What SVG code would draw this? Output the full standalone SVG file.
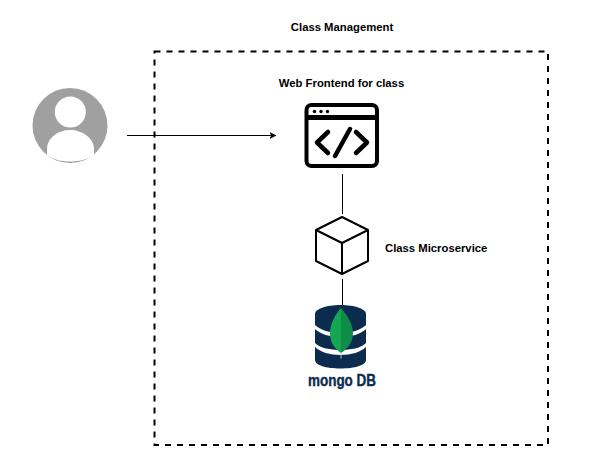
<svg xmlns="http://www.w3.org/2000/svg" width="591" height="473" viewBox="0 0 591 473">
<style>
.t{font-family:"Liberation Sans",Arial,sans-serif;font-size:11.300px;font-weight:700;fill:#000}
.c{fill:none;stroke:#000;stroke-width:1}
.k{fill:none;stroke:#000;stroke-linejoin:round}
</style>
<defs><marker id="a" markerWidth="8" markerHeight="8" refX="6.500" refY="3.500" orient="auto" markerUnits="userSpaceOnUse"><path d="M0 0L7 3.500L0 7L1.600 3.500Z" fill="#000"/></marker></defs>
<rect width="591" height="473" fill="#fff"/>
<g id="boundary"><rect x="154.500" y="51.500" width="393.500" height="393.500" fill="none" stroke="#000" stroke-width="2" stroke-dasharray="6 6"/></g>
<g id="connectors">
<path class="c" d="M127 135.500H276" marker-end="url(#a)"/>
<path class="c" d="M342.500 174V214"/>
<path class="c" d="M342.500 279V305"/>
</g>
<g id="user">
<circle cx="70" cy="125.500" r="37.500" fill="#a0a0a0"/>
<circle cx="70.300" cy="112" r="15.500" fill="#fff"/>
<path d="M47 155V149C47 138 58 130 70 130C82 130 94 138 94 149V155C87 159.500 79 161.500 70 161.500C61 161.500 53 159.500 47 155Z" fill="#fff"/>
</g>
<g id="frontend">
<rect x="306.500" y="105" width="70.500" height="61" rx="5" class="k" stroke-width="4"/>
<path class="k" stroke-width="5" d="M306.500 117.500H377"/>
<circle cx="314.500" cy="111.500" r="1.700"/><circle cx="321" cy="111.500" r="1.700"/><circle cx="327.500" cy="111.500" r="1.700"/>
<path class="k" stroke-width="4.500" stroke-linecap="round" d="M328 132L317 142.500L328 153M356 132L367 142.500L356 153M350 129L335 156"/>
<text class="t" x="341.500" y="87" text-anchor="middle">Web Frontend for class</text>
</g>
<g id="microservice">
<path class="k" stroke-width="2" d="M342 217L368 230V261L342 274L316 261V230ZM316 230L342 243L368 230M342 243V274"/>
<text class="t" x="385" y="252">Class Microservice</text>
</g>
<g id="mongodb">
<path fill="#0b2c4f" d="M315 314C315 309 326 305 340.500 305C355 305 366 309 366 314V325C361 330 351 333 340.500 333C330 333 320 330 315 325Z"/>
<path fill="#0b2c4f" d="M315 329C320 334 330 337 340.500 337C351 337 361 334 366 329V343C361 348 351 350 340.500 350C330 350 320 348 315 343Z"/>
<path fill="#0b2c4f" d="M315 347C320 352 330 355 340.500 355C351 355 361 352 366 347V360C366 365 355 368.500 340.500 368.500C326 368.500 315 365 315 360Z"/>
<path fill="#14a651" d="M341 308C335 315 330 324 330 333C330 343 335 349 341 353Z"/>
<path fill="#108c48" d="M341 308C347 315 353 324 353 333C353 343 347 349 341 353Z"/>
<path stroke="#b8c4b8" stroke-width="1" d="M341 352V358.500"/>
<text x="342" y="386" text-anchor="middle" textLength="68" lengthAdjust="spacingAndGlyphs" font-family="'Liberation Sans',Arial,sans-serif" font-size="16" font-weight="700" fill="#0b2c4f" stroke="#0b2c4f" stroke-width=".4">mongo DB</text>
</g>
<g id="title"><text class="t" x="342" y="31" text-anchor="middle">Class Management</text></g>
</svg>
